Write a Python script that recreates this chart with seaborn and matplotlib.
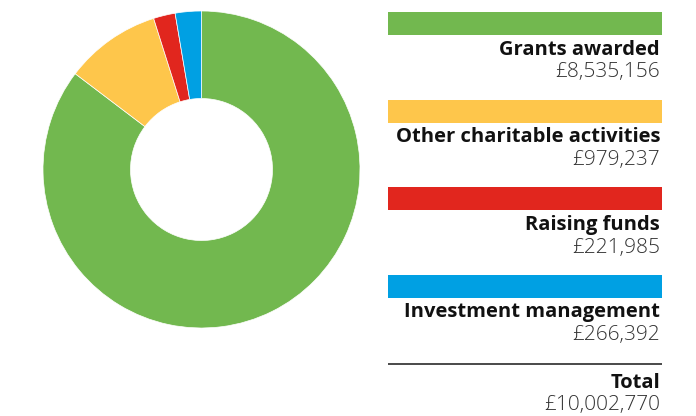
import matplotlib
matplotlib.use("Agg")
import matplotlib.pyplot as plt
import seaborn as sns

categories = ["Grants awarded", "Other charitable activities", "Raising funds", "Investment management"]
values = [8535156, 979237, 221985, 266392]
value_labels = ["£8,535,156", "£979,237", "£221,985", "£266,392"]
total_label = "Total"
total_value = "£10,002,770"
colors = ["#72B84F", "#FEC64B", "#E1261E", "#00A0E3"]

sns.set_theme(style="white")
plt.rcParams["font.family"] = ["Open Sans", "DejaVu Sans"]

W, H = 696, 416
fig = plt.figure(figsize=(W / 100, H / 100), dpi=100)
ax = fig.add_axes([0, 0, 1, 1])

# donut
cx, cy, R, r = 201.5, H - 169.5, 158.5, 71
ax.pie(values, colors=colors, startangle=90, counterclock=False,
       center=(cx, cy), radius=R,
       wedgeprops=dict(width=R - r, linewidth=0.5, edgecolor="white"))

# legend swatches
x0, x1 = 388, 662
step = 87.5
bar_top0 = 12
bar_h = 23
ys = [H - (bar_top0 + i * step + bar_h / 2) for i in range(len(categories))]
ax.barh(ys, [x1 - x0] * len(categories), left=x0, height=bar_h, color=colors, linewidth=0)

tx = 660
for i, (cat, vl) in enumerate(zip(categories, value_labels)):
    bc = bar_top0 + i * step + bar_h / 2
    ax.text(tx, H - (bc + 26.5), cat, ha="right", va="center", fontsize=14.5,
            fontweight="bold", color="#111111")
    ax.text(tx, H - (bc + 49), vl, ha="right", va="center", fontsize=15,
            fontweight="light", color="#333333")

ax.plot([x0, x1], [H - 363.5, H - 363.5], color="#3c3c3c", linewidth=1.3, solid_capstyle="butt")
ax.text(tx, H - 383.5, total_label, ha="right", va="center", fontsize=14.5,
        fontweight="bold", color="#111111")
ax.text(tx, H - 405, total_value, ha="right", va="center", fontsize=15,
        fontweight="light", color="#333333")

ax.set_xlim(0, W)
ax.set_ylim(0, H)
ax.set_aspect("equal")
ax.axis("off")
fig.savefig("out.png", dpi=100, facecolor="white")
